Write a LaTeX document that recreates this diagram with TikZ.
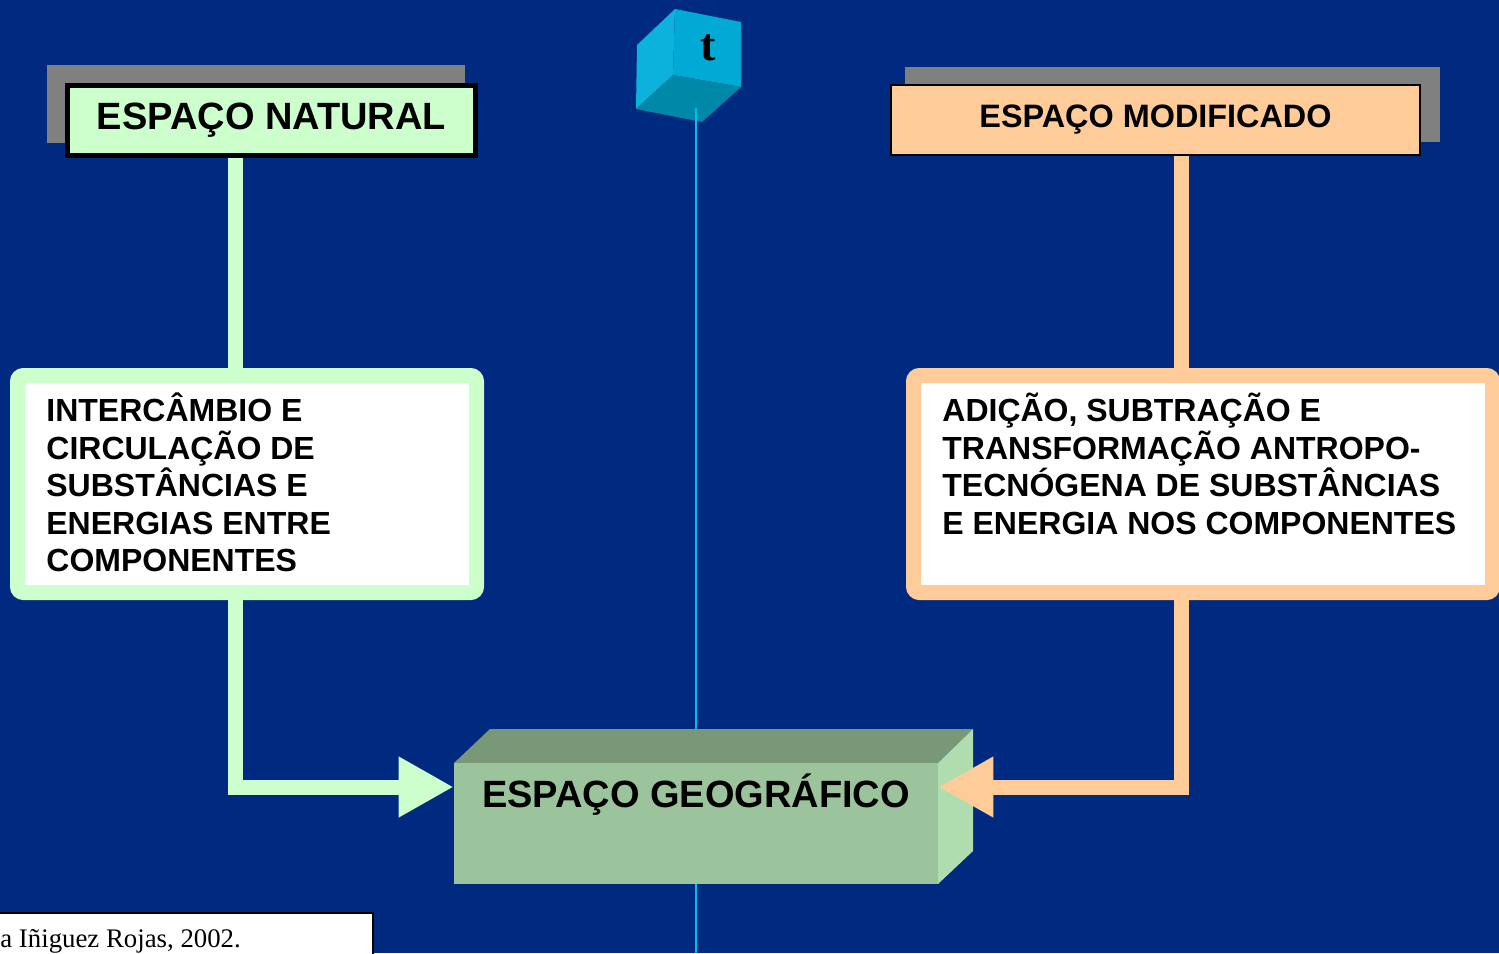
\documentclass[tikz,border=0pt]{standalone}
\usepackage{fontspec}
\setmainfont{Liberation Sans}
\newfontfamily\timesfont{Liberation Serif}
\usetikzlibrary{arrows.meta}

\definecolor{fundo}{RGB}{0,41,128}
\definecolor{natverde}{RGB}{204,255,204}
\definecolor{modpele}{RGB}{255,204,153}
\definecolor{sombra}{RGB}{128,128,128}
\definecolor{geofrente}{RGB}{156,196,156}
\definecolor{geotopo}{RGB}{120,152,120}
\definecolor{geolado}{RGB}{176,221,176}
\definecolor{cubofrente}{RGB}{0,170,212}
\definecolor{cubolado}{RGB}{12,178,220}
\definecolor{cubobase}{RGB}{0,136,168}
\definecolor{eixo}{RGB}{0,192,240}

\begin{document}
\begin{tikzpicture}[x=0.5pt,y=-0.5pt,line join=miter]
  \tikzstyle{titulo}=[font=\bfseries\fontsize{19}{22}\selectfont,text=black,inner sep=0pt]
  \tikzstyle{caixatexto}=[draw,fill=white,line width=7.5pt,rounded corners=3pt,inner sep=0pt]
  \tikzstyle{textocaixa}=[font=\bfseries\fontsize{16}{18.75}\selectfont,align=left,inner sep=0pt,anchor=base west]
  \tikzstyle{ligacao}=[line width=7.5pt]
  \tikzstyle{seta}=[-{Triangle[length=27.5pt,width=28.5pt]}]

  \useasboundingbox (0,0) rectangle (1499,953);
  \clip (0,0) rectangle (1499,953);
  \fill[fundo] (0,0) rectangle (1499,953);

  % sombras
  \fill[sombra] (47,65) rectangle (465,143);
  \fill[sombra] (905,67) rectangle (1440,142);

  % cubo do tempo
  \fill[cubolado] (675,9) -- (673,75) -- (636,109) -- (637,45) -- cycle;
  \fill[cubofrente] (675,9) -- (741,22) -- (741,87) -- (673,75) -- cycle;
  \fill[cubobase] (673,75) -- (741,87) -- (702,122) -- (636,109) -- cycle;
  \node[font=\timesfont\bfseries\fontsize{23}{23}\selectfont] (t) at (708,48) {t};
  \coordinate (cubo) at (696,108);
  \coordinate (eixofim) at (696,953);
  \draw[eixo,line width=1pt] (cubo) -- (eixofim);

  % caixas de titulo
  \node[titulo,draw=black,fill=natverde,line width=2.5pt,minimum width=204pt,minimum height=35pt]
        (nat) at (271.5,120.5) {ESPAÇO NATURAL};
  \node[titulo,font=\bfseries\fontsize{16.2}{20}\selectfont,draw=black,fill=modpele,line width=1pt,
        minimum width=264.5pt,minimum height=35pt]
        (mod) at (1155.5,120) {ESPAÇO MODIFICADO};

  % caixas de processos
  \node[caixatexto,draw=natverde,minimum width=229.5pt,minimum height=108.5pt] (esq) at (247,484) {};
  \node[caixatexto,draw=modpele,minimum width=289.5pt,minimum height=108.5pt] (dir) at (1203,484) {};
  \node[textocaixa] (esqtexto) at (46,571.5)
        {INTERCÂMBIO E\\CIRCULAÇÃO DE\\SUBSTÂNCIAS E\\ENERGIAS ENTRE\\COMPONENTES};
  \node[textocaixa] (dirtexto) at (942,534)
        {ADIÇÃO, SUBTRAÇÃO E\\TRANSFORMAÇÃO ANTROPO-\\TECNÓGENA DE SUBSTÂNCIAS\\E ENERGIA NOS COMPONENTES};

  % espaco geografico
  \fill[geotopo] (454,763) -- (490,729) -- (973,729) -- (938,763) -- cycle;
  \fill[geolado] (938,763) -- (973,729) -- (973,851) -- (938,884) -- cycle;
  \node[fill=geofrente,minimum width=242pt,minimum height=60.5pt,inner sep=0pt] (geo) at (696,823.5) {};
  \node[titulo,anchor=base] (geotexto) at (696,807) {ESPAÇO GEOGRÁFICO};

  % ligacoes
  \coordinate (nx) at (235,787);
  \coordinate (mx) at (1181,787);
  \draw[ligacao,natverde] (nat.south -| nx) -- (esq.north -| nx);
  \draw[ligacao,modpele] (mod.south -| mx) -- (dir.north -| mx);
  \draw[ligacao,natverde,seta] (esq.south -| nx) -- (nx) -- (geo.west |- nx);
  \draw[ligacao,modpele,seta] (dir.south -| mx) -- (mx) -- (geo.east |- mx);

  % fonte
  \draw[fill=white,line width=1pt] (-5,913) rectangle (373,960);
  \node[font=\timesfont\fontsize{13.4}{16}\selectfont,inner sep=0pt,anchor=base west] (fonte) at (0,947)
        {a Iñiguez Rojas, 2002.};
\end{tikzpicture}
\end{document}
